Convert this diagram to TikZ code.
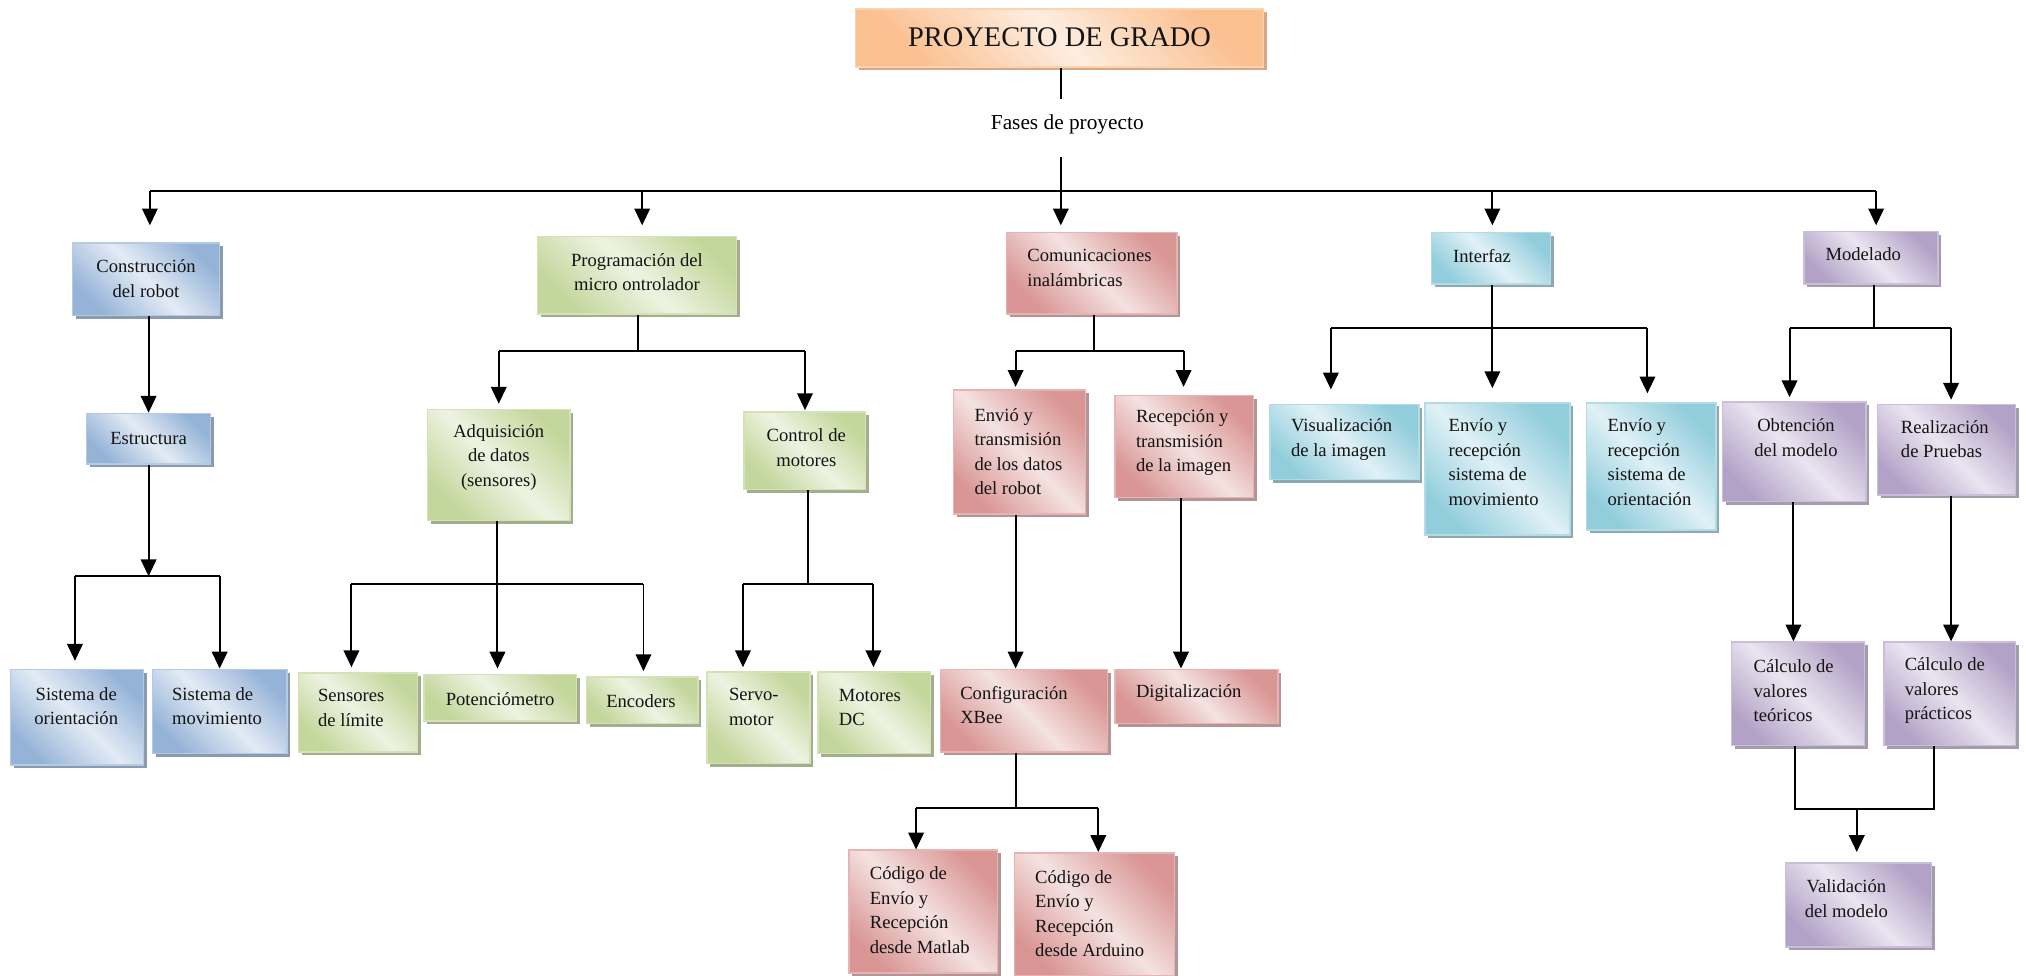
\documentclass[tikz,border=0pt]{standalone}
\usepackage{fontspec}
\setmainfont{Liberation Serif}
\usetikzlibrary{arrows.meta,shadows}

% palettes: dark edge colour, light centre colour, shadow colour
\definecolor{bluD}{HTML}{95B3D7}\definecolor{bluL}{HTML}{E3EBF5}\definecolor{bluS}{HTML}{8A9BB0}
\definecolor{grnD}{HTML}{C3D69B}\definecolor{grnL}{HTML}{EEF3E2}\definecolor{grnS}{HTML}{A4AE8F}
\definecolor{redD}{HTML}{D99694}\definecolor{redL}{HTML}{F4E2E1}\definecolor{redS}{HTML}{B39595}
\definecolor{cyaD}{HTML}{92CDDC}\definecolor{cyaL}{HTML}{E0F1F6}\definecolor{cyaS}{HTML}{8FA9B0}
\definecolor{purD}{HTML}{B3A2C7}\definecolor{purL}{HTML}{EAE5F0}\definecolor{purS}{HTML}{A39DAB}
\definecolor{ornD}{HTML}{FAC090}\definecolor{ornL}{HTML}{FEEDE0}\definecolor{ornS}{HTML}{D5A886}

\newcommand\bodyfont{\fontsize{14.4}{19}\selectfont}

\tikzset{
  ln/.style={line width=1.5pt, black},
  arr/.style={ln, -{Triangle[width=12pt,length=13pt]}},
  box/.style={rectangle, inner sep=0pt, line width=1.2pt},
  pal/.style n args={3}{draw=#1!70!white, top color=#1, bottom color=#1,
    middle color=#2, shading angle=-45,
    drop shadow={shadow xshift=2.5pt, shadow yshift=-2.5pt, opacity=1, fill=#3}},
  blu/.style={pal={bluD}{bluL}{bluS}},
  grn/.style={pal={grnD}{grnL}{grnS}},
  red/.style={pal={redD}{redL}{redS}},
  cya/.style={pal={cyaD}{cyaL}{cyaS}},
  pur/.style={pal={purD}{purL}{purS}},
  orn/.style={pal={ornD}{ornL}{ornS}},
  txt/.style={inner sep=0pt, font=\bodyfont, text=black!92},
}

% box from corner (x1,y1) to (x2,y2): name, palette, x1, y1, x2, y2
\newcommand\mkbox[6]{%
  \node[box, #2, minimum width={(#5-#3)*1pt}, minimum height={(#6-#4)*1pt}]
    (#1) at ({(#3+#5)/2},{(#4+#6)/2}) {};}
% left-aligned label: name, left x, centre y, text
\newcommand\ltxt[4]{\node[txt, align=left, anchor=west] (t-#1) at (#2,#3) {#4};}
% centred label: name, centre x, centre y, text
\newcommand\ctxt[4]{\node[txt, align=center] (t-#1) at (#2,#3) {#4};}

\begin{document}
\begin{tikzpicture}[x=1pt, y=-1pt]
\useasboundingbox (0,0) rectangle (1568,755);

% ---------- title ----------
\mkbox{top}{orn}{662}{7}{978}{52}
\node[txt, font=\fontsize{22}{26}\selectfont] (t-top) at (820,29) {PROYECTO DE GRADO};
\node[inner xsep=0pt, inner ysep=0pt, text height=23pt, text depth=21pt,
      font=\fontsize{16.5}{20}\selectfont] (fases) at (826,99) {Fases de proyecto};

% ---------- first level ----------
\mkbox{c1}{blu}{56}{188}{170}{244}
\mkbox{c2}{grn}{416}{183}{570}{243}
\mkbox{c3}{red}{779}{180}{911}{243}
\mkbox{c4}{cya}{1108}{180}{1200}{220}
\mkbox{c5}{pur}{1396}{179}{1500}{220}
\ctxt{c1}{113}{215.5}{Construcción\\del robot}
\ctxt{c2}{493}{210.5}{Programación del\\micro ontrolador}
\ltxt{c3}{795}{207.5}{Comunicaciones\\inalámbricas}
\ctxt{c4}{1147}{198}{Interfaz}
\ctxt{c5}{1442}{197}{Modelado}

% ---------- construction branch ----------
\mkbox{est}{blu}{67}{320}{163}{359}
\mkbox{so}{blu}{8}{518}{111}{592}
\mkbox{sm}{blu}{118}{518}{222}{583}
\ctxt{est}{115}{339}{Estructura}
\ctxt{so}{59}{546.5}{Sistema de\\orientación}
\ltxt{sm}{133}{546.5}{Sistema de\\movimiento}

% ---------- microcontroller branch ----------
\mkbox{adq}{grn}{331}{317}{441}{403}
\mkbox{ctl}{grn}{576}{319}{670}{379}
\mkbox{sen}{grn}{231}{521}{323}{582}
\mkbox{pot}{grn}{328}{522}{446}{558}
\mkbox{enc}{grn}{454}{524}{540}{560}
\mkbox{servo}{grn}{547}{520}{627}{591}
\mkbox{mdc}{grn}{633}{520}{720}{583}
\ctxt{adq}{386}{354}{Adquisición\\de datos\\(sensores)}
\ctxt{ctl}{624}{346.5}{Control de\\motores}
\ltxt{sen}{246}{548}{Sensores\\de límite}
\ctxt{pot}{387}{541}{Potenciómetro}
\ctxt{enc}{496}{543}{Encoders}
\ltxt{servo}{564}{547}{Servo-\\motor}
\ltxt{mdc}{649}{547.5}{Motores\\DC}

% ---------- wireless branch ----------
\mkbox{env}{red}{738}{302}{840}{398}
\mkbox{rec}{red}{863}{306}{970}{385}
\mkbox{xbee}{red}{728}{518}{857}{582}
\mkbox{dig}{red}{863}{518}{989}{560}
\mkbox{mat}{red}{657}{658}{772}{753}
\mkbox{ard}{red}{785}{660}{909}{755}
\ltxt{env}{754}{349.5}{Envió y\\transmisión\\de los datos\\del robot}
\ltxt{rec}{879}{342.5}{Recepción y\\transmisión\\de la imagen}
\ltxt{xbee}{743}{545.5}{Configuración\\XBee}
\ltxt{dig}{879}{536}{Digitalización}
\ltxt{mat}{673}{704.5}{Código de\\Envío y\\Recepción\\desde Matlab}
\ltxt{ard}{801}{707}{Código de\\Envío y\\Recepción\\desde Arduino}

% ---------- interface branch ----------
\mkbox{vis}{cya}{983}{313}{1098}{371}
\mkbox{erm}{cya}{1103}{312}{1215}{414}
\mkbox{ero}{cya}{1228}{312}{1328}{410}
\ltxt{vis}{999}{340}{Visualización\\de la imagen}
\ltxt{erm}{1121}{357.5}{Envío y\\recepción\\sistema de\\movimiento}
\ltxt{ero}{1244}{357.5}{Envío y\\recepción\\sistema de\\orientación}

% ---------- modelling branch ----------
\mkbox{obt}{pur}{1333}{311}{1444}{388}
\mkbox{rea}{pur}{1453}{313}{1560}{383}
\mkbox{cvt}{pur}{1340}{497}{1443}{577}
\mkbox{cvp}{pur}{1458}{497}{1560}{577}
\mkbox{val}{pur}{1382}{668}{1495}{733}
\ctxt{obt}{1390}{338.5}{Obtención\\del modelo}
\ltxt{rea}{1471}{340}{Realización\\de Pruebas}
\ltxt{cvt}{1357}{534.5}{Cálculo de\\valores\\teóricos}
\ltxt{cvp}{1474}{534.5}{Cálculo de\\valores\\prácticos}
\ctxt{val}{1429}{695.5}{Validación\\del modelo}

% ================= connectors =================
% main trunk and bus
\coordinate (hub) at (821,148);
\coordinate (h1) at (116,148);
\coordinate (h2) at (497,148);
\coordinate (h4) at (1155,148);
\coordinate (h5) at (1452,148);
\draw[ln] (top.south -| hub) -- (fases.north -| hub);
\draw[ln] (fases.south -| hub) -- (hub);
\draw[ln] (h1) -- (h5);
\draw[arr, shorten >=13pt] (h1) -- (h1 |- c1.north);
\draw[arr, shorten >=8pt]  (h2) -- (h2 |- c2.north);
\draw[arr, shorten >=5pt]  (hub) -- (hub |- c3.north);
\draw[arr, shorten >=5pt]  (h4) -- (h4 |- c4.north);
\draw[arr, shorten >=4pt]  (h5) -- (h5 |- c5.north);

% construction
\coordinate (e0) at (115,446);
\coordinate (e1) at (58,446);
\coordinate (e2) at (170,446);
\draw[arr] (c1.south -| est.north) -- (est.north);
\draw[arr] (est.south) -- (e0);
\draw[ln] (e1) -- (e2);
\draw[arr, shorten >=6pt] (e1) -- (e1 |- so.north);
\draw[arr] (e2) -- (e2 |- sm.north);

% microcontroller
\coordinate (p0) at (494,272);
\coordinate (p1) at (386,272);
\coordinate (p2) at (623,272);
\draw[ln] (c2.south -| p0) -- (p0);
\draw[ln] (p1) -- (p2);
\draw[arr, shorten >=4pt] (p1) -- (p1 |- adq.north);
\draw[arr, shorten >=1pt] (p2) -- (p2 |- ctl.north);
\coordinate (a0) at (385,452);
\coordinate (a1) at (272,452);
\coordinate (a2) at (498,452);
\draw[ln] (adq.south -| a0) -- (a0);
\draw[ln] (a1) -- (a2);
\draw[arr, shorten >=4pt] (a1) -- (a1 |- sen.north);
\draw[arr, shorten >=4pt] (a0) -- (a0 |- pot.north);
\draw[arr, shorten >=4pt] (a2) -- (a2 |- enc.north);
\coordinate (m0) at (625,452);
\coordinate (m1) at (575,452);
\coordinate (m2) at (676,452);
\draw[ln] (ctl.south -| m0) -- (m0);
\draw[ln] (m1) -- (m2);
\draw[arr, shorten >=3pt] (m1) -- (m1 |- servo.north);
\draw[arr, shorten >=3pt] (m2) -- (m2 |- mdc.north);

% wireless
\coordinate (w0) at (847,272);
\coordinate (w1) at (786,272);
\coordinate (w2) at (916,272);
\draw[ln] (c3.south -| w0) -- (w0);
\draw[ln] (w1) -- (w2);
\draw[arr, shorten >=2pt] (w1) -- (w1 |- env.north);
\draw[arr, shorten >=6pt] (w2) -- (w2 |- rec.north);
\draw[arr] (env.south -| w1) -- (w1 |- xbee.north);
\draw[arr] (rec.south -| 914,0) -- (914,0 |- dig.north);
\coordinate (x0) at (786,625);
\coordinate (x1) at (709,625);
\coordinate (x2) at (850,625);
\draw[ln] (xbee.south -| x0) -- (x0);
\draw[ln] (x1) -- (x2);
\draw[arr] (x1) -- (x1 |- mat.north);
\draw[arr] (x2) -- (x2 |- ard.north);

% interface
\coordinate (i0) at (1155,254);
\coordinate (i1) at (1030,254);
\coordinate (i2) at (1275,254);
\draw[ln] (c4.south -| i0) -- (i0);
\draw[ln] (i1) -- (i2);
\draw[arr, shorten >=11pt] (i1) -- (i1 |- vis.north);
\draw[arr, shorten >=11pt] (i0) -- (i0 |- erm.north);
\draw[arr, shorten >=7pt]  (i2) -- (i2 |- ero.north);

% modelling
\coordinate (o0) at (1450,254);
\coordinate (o1) at (1385,254);
\coordinate (o2) at (1510,254);
\draw[ln] (c5.south -| o0) -- (o0);
\draw[ln] (o1) -- (o2);
\draw[arr, shorten >=3pt] (o1) -- (o1 |- obt.north);
\draw[arr, shorten >=3pt] (o2) -- (o2 |- rea.north);
\draw[arr] (obt.south -| 1388,0) -- (1388,0 |- cvt.north);
\draw[arr] (rea.south -| o2) -- (o2 |- cvp.north);
\coordinate (v1) at (1389,626);
\coordinate (v2) at (1497,626);
\coordinate (v0) at (1437,626);
\draw[ln] (cvt.south -| v1) -- (v1) -- (v2) -- (cvp.south -| v2);
\draw[arr, shorten >=8pt] (v0) -- (v0 |- val.north);

\end{tikzpicture}
\end{document}
